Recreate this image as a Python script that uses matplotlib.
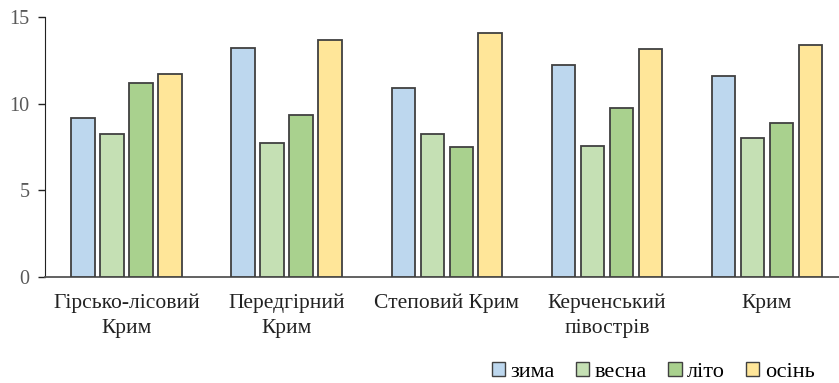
import numpy as np
import matplotlib.pyplot as plt
from matplotlib.patches import Patch

plt.rcParams['font.family'] = ['Liberation Serif', 'DejaVu Serif']

regions = ['Гірсько-лісовий\nКрим', 'Передгірний\nКрим', 'Степовий Крим',
           'Керченський\nпівострів', 'Крим']
seasons = ['зима', 'весна', 'літо', 'осінь']
zyma = [9.17, 13.2, 10.9, 12.23, 11.6]
vesna = [8.25, 7.7, 8.25, 7.56, 8.0]
lito = [11.2, 9.35, 7.5, 9.75, 8.9]
osin = [11.7, 13.68, 14.08, 13.15, 13.4]
colors = ['#BDD7EE', '#C5E0B4', '#A9D18E', '#FFE699']

fig = plt.figure(figsize=(8.39, 3.83), dpi=100)
ax = fig.add_axes([45 / 839, 0.277, 1 - 45 / 839, 0.679])

x = np.arange(len(regions))
step = 0.181
width = 0.147
for i, (vals, c) in enumerate(zip([zyma, vesna, lito, osin], colors)):
    ax.bar(x + (i - 1.5) * step, vals, width, color=c,
           edgecolor='#404040', linewidth=1.3, zorder=3)

ax.set_xlim(-0.51, 4.45)
ax.set_ylim(0, 15)
ax.set_yticks([0, 5, 10, 15])
ax.set_xticks(x)
ax.set_xticklabels(regions, fontsize=15.5, color='#222222', linespacing=1.4)
ax.tick_params(axis='x', length=0, pad=12)
ax.tick_params(axis='y', length=5, width=1, color='#222222',
               labelsize=14.5, labelcolor='#595959', pad=6)

for s in ['top', 'right']:
    ax.spines[s].set_visible(False)
ax.spines['left'].set_color('#222222')
ax.spines['bottom'].set_color('#555555')
ax.spines['bottom'].set_linewidth(1.3)

handles = [Patch(facecolor=c, edgecolor='#404040', linewidth=1.0) for c in colors]
fig.legend(handles, seasons, loc='lower right', bbox_to_anchor=(0.995, -0.05),
           ncol=4, frameon=False, fontsize=16, handlelength=0.6,
           handleheight=0.6, handletextpad=0.25, columnspacing=0.95)

fig.savefig('out.png', dpi=100)
